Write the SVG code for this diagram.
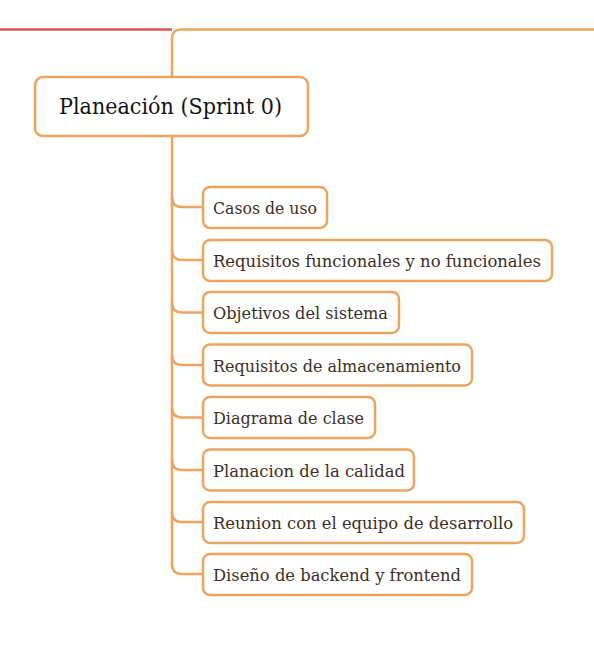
<svg xmlns="http://www.w3.org/2000/svg" width="594" height="662" viewBox="0 0 594 662">
<style>
.box{fill:#ffffff;stroke:#eba55e;stroke-width:2.5}
.ln{fill:none;stroke:#eba55e;stroke-width:2.5}
.t{font-family:"DejaVu Serif","Liberation Serif",serif;font-size:17.5px;fill:#3d2e1e}
.rt{font-family:"DejaVu Serif","Liberation Serif",serif;font-size:23px;fill:#141414}
</style>
<rect width="594" height="662" fill="#ffffff"/>
<g id="connectors">
<path d="M0,29.5 L172,29.5" fill="none" stroke="#e05555" stroke-width="2.5"/>
<path class="ln" d="M594,29.5 L181,29.5 Q172,29.5 172,38.5 L172,77"/>
<path class="ln" d="M172,136 L172,564 Q172,574 182,574 L203,574"/>
<path class="ln" d="M172,197 Q172,207 182,207 L203,207"/>
<path class="ln" d="M172,250 Q172,260 182,260 L203,260"/>
<path class="ln" d="M172,302.5 Q172,312.5 182,312.5 L203,312.5"/>
<path class="ln" d="M172,355 Q172,365 182,365 L203,365"/>
<path class="ln" d="M172,407.5 Q172,417.5 182,417.5 L203,417.5"/>
<path class="ln" d="M172,460 Q172,470 182,470 L203,470"/>
<path class="ln" d="M172,512 Q172,522 182,522 L203,522"/>
</g>
<g id="root">
<rect class="box" x="35" y="77" width="273" height="59" rx="8"/>
<text class="rt" x="59" y="113.5" textLength="223" lengthAdjust="spacingAndGlyphs">Planeación (Sprint 0)</text>
</g>
<g id="n1">
<rect class="box" x="203" y="187" width="124" height="41" rx="7"/>
<text class="t" x="213" y="213.5" textLength="104" lengthAdjust="spacingAndGlyphs">Casos de uso</text>
</g>
<g id="n2">
<rect class="box" x="203" y="240" width="349" height="41" rx="7"/>
<text class="t" x="213" y="266.5" textLength="328" lengthAdjust="spacingAndGlyphs">Requisitos funcionales y no funcionales</text>
</g>
<g id="n3">
<rect class="box" x="203" y="292" width="196" height="41" rx="7"/>
<text class="t" x="213" y="319" textLength="175" lengthAdjust="spacingAndGlyphs">Objetivos del sistema</text>
</g>
<g id="n4">
<rect class="box" x="203" y="344.5" width="269" height="41" rx="7"/>
<text class="t" x="213" y="371.5" textLength="248" lengthAdjust="spacingAndGlyphs">Requisitos de almacenamiento</text>
</g>
<g id="n5">
<rect class="box" x="203" y="397" width="172" height="41" rx="7"/>
<text class="t" x="213" y="424" textLength="151" lengthAdjust="spacingAndGlyphs">Diagrama de clase</text>
</g>
<g id="n6">
<rect class="box" x="203" y="449.5" width="211" height="41" rx="7"/>
<text class="t" x="213" y="476.5" textLength="192" lengthAdjust="spacingAndGlyphs">Planacion de la calidad</text>
</g>
<g id="n7">
<rect class="box" x="203" y="502" width="321" height="41" rx="7"/>
<text class="t" x="213" y="528.5" textLength="300" lengthAdjust="spacingAndGlyphs">Reunion con el equipo de desarrollo</text>
</g>
<g id="n8">
<rect class="box" x="203" y="554" width="269" height="41" rx="7"/>
<text class="t" x="213" y="581" textLength="248" lengthAdjust="spacingAndGlyphs">Diseño de backend y frontend</text>
</g>
</svg>
